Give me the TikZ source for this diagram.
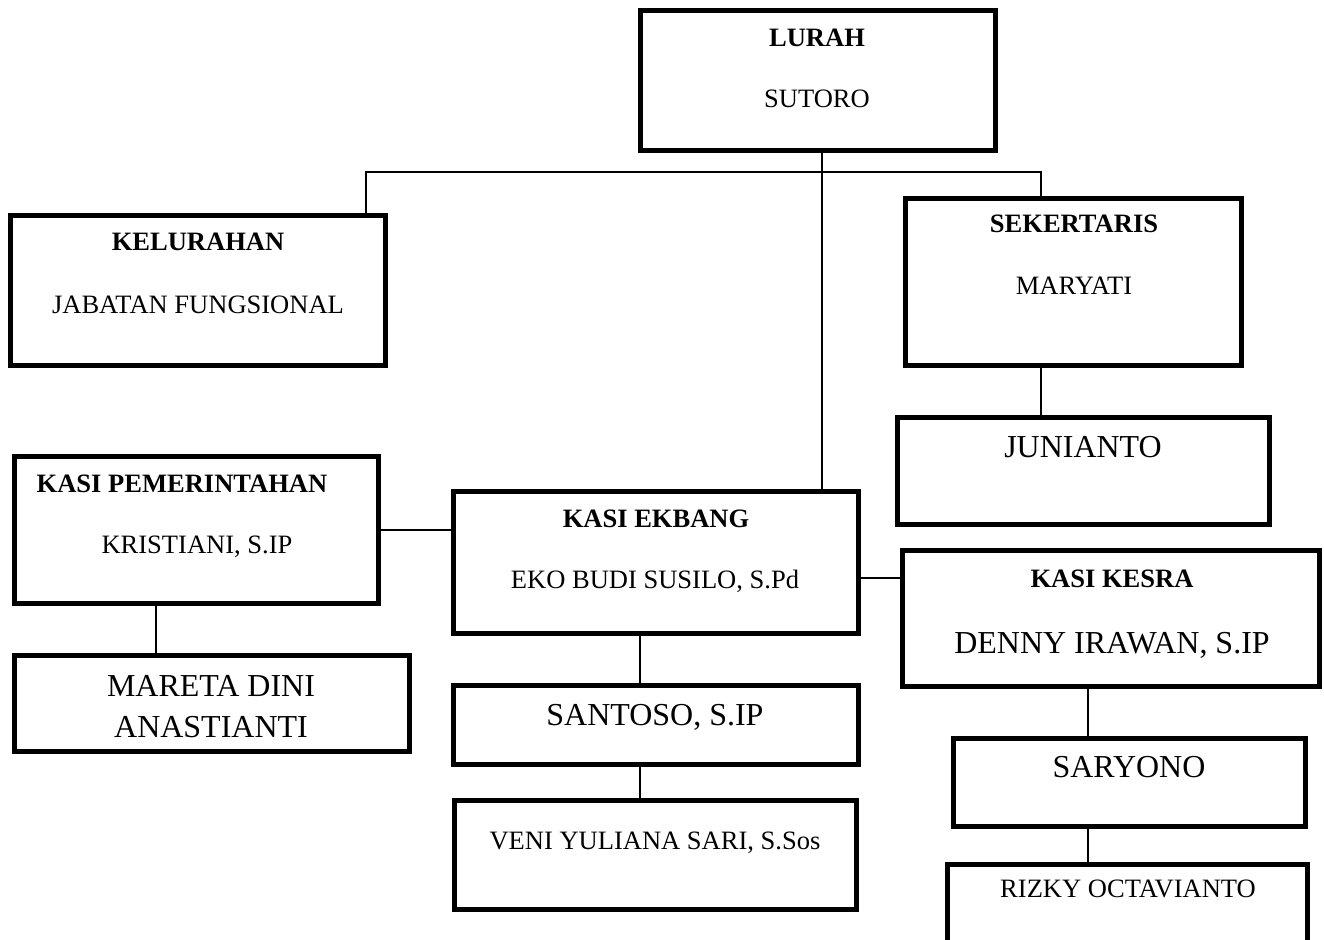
\documentclass[tikz,border=0pt]{standalone}
\usepackage{fontspec}
\setmainfont{Liberation Serif}

\tikzset{
  unit/.style = {draw, line width=2.6pt, inner sep=0pt, outer sep=0pt},
  box/.style 2 args = {unit, minimum width=#1cm, minimum height=#2cm},
  link/.style = {line width=0.9pt},
  small/.style = {anchor=base, inner sep=0pt, font=\fontsize{15.1}{18}\selectfont},
  head/.style = {anchor=base, inner sep=0pt, font=\fontsize{15.1}{18}\selectfont\bfseries},
  big/.style = {anchor=base, inner sep=0pt, font=\fontsize{18.2}{23.3}\selectfont},
}

\begin{document}
\begin{tikzpicture}[x=0.02cm, y=-0.02cm]
  \useasboundingbox (0,0) rectangle (1324,939);

  % boxes
  \node[box={7.10}{2.80}] (lurah) at (818,80.5) {};
  \node[box={7.50}{3.00}] (kelurahan) at (198,290.5) {};
  \node[box={6.72}{3.34}] (sekertaris) at (1073.5,282) {};
  \node[box={7.44}{2.14}] (junianto) at (1083.5,471) {};
  \node[box={7.28}{2.94}] (kasipem) at (196.5,530) {};
  \node[box={7.90}{1.92}] (mareta) at (212,703.5) {};
  \node[box={8.10}{2.84}] (ekbang) at (656,562.5) {};
  \node[box={8.10}{1.58}] (santoso) at (656,725) {};
  \node[box={8.04}{2.18}] (veni) at (655.5,855) {};
  \node[box={8.34}{2.72}] (kesra) at (1111,618.5) {};
  \node[box={7.04}{1.76}] (saryono) at (1129.5,782.5) {};
  \node[box={7.20}{2.20}] (rizky) at (1127.5,919.5) {};

  % texts
  \node[head] (lurahT) at (817,47) {LURAH};
  \node[small] (lurahN) at (817,108) {SUTORO};
  \node[head] (kelT) at (198,250) {KELURAHAN};
  \node[small] (kelN) at (198,313) {JABATAN FUNGSIONAL};
  \node[head] (sekT) at (1074,233) {SEKERTARIS};
  \node[small] (sekN) at (1074,294) {MARYATI};
  \node[big] (junN) at (1083,457) {JUNIANTO};
  \node[head] (pemT) at (182,492) {KASI PEMERINTAHAN};
  \node[small] (pemN) at (197,553) {KRISTIANI, S.IP};
  \node[big] (marA) at (211,696) {MARETA DINI};
  \node[big] (marB) at (211,737) {ANASTIANTI};
  \node[head] (ekT) at (656,527) {KASI EKBANG};
  \node[small] (ekN) at (655,588) {EKO BUDI SUSILO, S.Pd};
  \node[big] (sanN) at (655,725) {SANTOSO, S.IP};
  \node[small] (venN) at (655,849) {VENI YULIANA SARI, S.Sos};
  \node[head] (kesT) at (1112,587) {KASI KESRA};
  \node[big] (kesN) at (1112,653) {DENNY IRAWAN, S.IP};
  \node[big] (sarN) at (1129,777) {SARYONO};
  \node[small] (rizN) at (1128,897) {RIZKY OCTAVIANTO};

  % connectors
  \coordinate (trunk) at (822,172);
  \coordinate (busL) at (366,172);
  \coordinate (busR) at (1041,172);
  \coordinate (pemX) at (156,630);
  \coordinate (ekX) at (640,660);
  \coordinate (ekY) at (880,578);
  \coordinate (kesX) at (1088,710);
  \draw[link] (lurah.south -| trunk) -- (ekbang.north -| trunk);
  \draw[link] (kelurahan.north -| busL) -- (busL) -- (busR) -- (sekertaris.north -| busR);
  \draw[link] (sekertaris.south -| busR) -- (junianto.north -| busR);
  \draw[link] (kasipem.east) -- (kasipem.east -| ekbang.west);
  \draw[link] (ekbang.east |- ekY) -- (kesra.west |- ekY);
  \draw[link] (kasipem.south -| pemX) -- (mareta.north -| pemX);
  \draw[link] (ekbang.south -| ekX) -- (santoso.north -| ekX);
  \draw[link] (santoso.south -| ekX) -- (veni.north -| ekX);
  \draw[link] (kesra.south -| kesX) -- (saryono.north -| kesX);
  \draw[link] (saryono.south -| kesX) -- (rizky.north -| kesX);
\end{tikzpicture}
\end{document}
